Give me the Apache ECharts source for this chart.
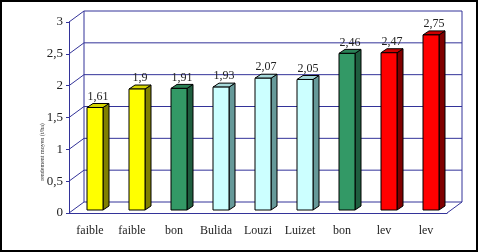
<!DOCTYPE html>
<html>
<head>
<meta charset="utf-8">
<script src="https://cdn.jsdelivr.net/npm/echarts@6/dist/echarts.min.js"></script>
<style>
  html, body { margin: 0; padding: 0; background: #fff; }
  #chart { width: 478px; height: 252px; }
</style>
</head>
<body>
<div id="chart"></div>
<script>
const categories = ['faible', 'faible', 'bon', 'Bulida', 'Louzi', 'Luizet', 'bon', 'lev', 'lev'];
const values = [1.61, 1.9, 1.91, 1.93, 2.07, 2.05, 2.46, 2.47, 2.75];
const yTicks = [0, 0.5, 1, 1.5, 2, 2.5, 3];

// front / side / top colour for each class of cultivar
const palette = {
    faible: ['#ffff00', '#808000', '#d6d600'],
    bon: ['#339966', '#1f5e3f', '#2b8257'],
    lev: ['#ff0000', '#800000', '#cc0000'],
    other: ['#ccffff', '#669999', '#a6d9d9']
};
const frameColor = '#333399';
const DX = 15, DY = -11;   // depth of the 3d box
const comma = v => String(v).replace('.', ',');

// back wall, side wall and floor of the 3d box
function renderFrame(params, api) {
    const cs = params.coordSys;
    const x0 = cs.x, x1 = cs.x + cs.width;
    const yTop = cs.y, yBot = cs.y + cs.height;
    const st = {stroke: frameColor, lineWidth: 1, fill: null};
    const kids = [];
    yTicks.forEach(t => {
        const y = api.coord([0, t])[1];
        kids.push({type: 'line', shape: {x1: x0, y1: y, x2: x0 + DX, y2: y + DY}, style: st});
        kids.push({type: 'line', shape: {x1: x0 + DX, y1: y + DY, x2: x1 + DX, y2: y + DY}, style: st});
    });
    kids.push({type: 'line', shape: {x1: x0 + DX, y1: yTop + DY, x2: x0 + DX, y2: yBot + DY}, style: st});
    kids.push({type: 'line', shape: {x1: x1 + DX, y1: yTop + DY, x2: x1 + DX, y2: yBot + DY}, style: st});
    kids.push({type: 'line', shape: {x1: x1, y1: yBot, x2: x1 + DX, y2: yBot + DY}, style: st});
    return {type: 'group', children: kids};
}

function renderBar(params, api) {
    const i = api.value(0), v = api.value(1);
    const base = api.coord([i, 0]);
    const top = api.coord([i, v]);
    const x = base[0] - 3, yb = base[1] - 3, yt = top[1] - 3;
    const w = 16, dx = 6, dy = -4;
    const col = palette[categories[i]] || palette.other;
    return {
        type: 'group',
        children: [
            {type: 'polygon', shape: {points: [[x + w, yb], [x + w + dx, yb + dy], [x + w + dx, yt + dy], [x + w, yt]]},
                style: {fill: col[1], stroke: '#000', lineWidth: 1}},
            {type: 'polygon', shape: {points: [[x, yt], [x + dx, yt + dy], [x + w + dx, yt + dy], [x + w, yt]]},
                style: {fill: col[2], stroke: '#000', lineWidth: 1}},
            {type: 'rect', shape: {x: x, y: yt, width: w, height: yb - yt},
                style: {fill: col[0], stroke: '#000', lineWidth: 1}},
            {type: 'text', style: {x: x + (w + dx) / 2, y: yt + dy - 1, text: comma(v), fill: '#222',
                font: '12px "Liberation Serif"', align: 'center', verticalAlign: 'bottom'}}
        ]
    };
}

const chart = echarts.init(document.getElementById('chart'));
chart.setOption({
    backgroundColor: '#fff',
    animation: false,
    grid: {left: 69, right: 31, top: 22, bottom: 39},
    xAxis: {
        type: 'category',
        data: categories,
        axisLine: {lineStyle: {color: frameColor}},
        axisTick: {length: 3, lineStyle: {color: frameColor}},
        axisLabel: {interval: 0, margin: 12, color: '#222', fontSize: 12, fontFamily: 'Liberation Serif'}
    },
    yAxis: {
        type: 'value',
        min: 0, max: 3, interval: 0.5,
        axisLine: {show: true, lineStyle: {color: frameColor}},
        axisTick: {show: true, length: 3, lineStyle: {color: frameColor}},
        splitLine: {show: false},
        axisLabel: {margin: 6, color: '#222', fontSize: 13, fontFamily: 'Liberation Serif', formatter: comma}
    },
    graphic: [
        {type: 'text', x: 42, y: 152, rotation: Math.PI / 2,
            style: {text: 'rendement moyen (t/ha)', font: '6px "Liberation Serif"', fill: '#333', align: 'center', verticalAlign: 'middle'}},
        {type: 'rect', shape: {x: 1, y: 1, width: 476, height: 250}, style: {fill: null, stroke: '#000', lineWidth: 2}}
    ],
    series: [
        {type: 'custom', silent: true, renderItem: renderFrame, data: [[0, 0]], z: 1},
        {type: 'custom', silent: true, renderItem: renderBar, data: values.map((v, i) => [i, v]), z: 2}
    ]
});
</script>
</body>
</html>
